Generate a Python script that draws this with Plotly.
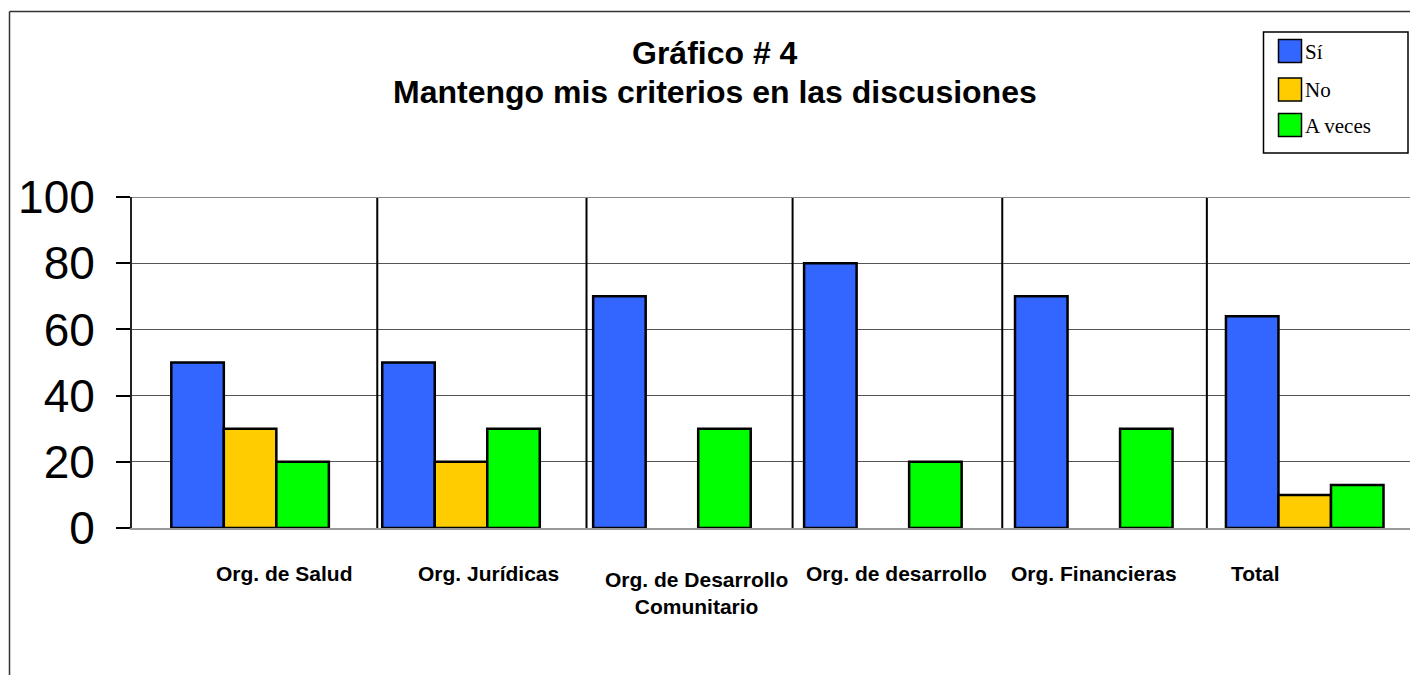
import plotly.graph_objects as go

# datos del gráfico
categorias = ["Org. de Salud", "Org. Jurídicas", "Org. de Desarrollo<br>Comunitario",
              "Org. de desarrollo", "Org. Financieras", "Total"]
series = ["Sí", "No", "A veces"]
si = [50, 50, 70, 80, 70, 64]
no = [30, 20, 0, 0, 0, 10]
a_veces = [20, 30, 30, 20, 30, 13]
y_ticks = [0, 20, 40, 60, 80, 100]

colores = ["#3366FF", "#FFCC00", "#00FF00"]

# la página html deja 8px de margen en el body
OFF = 8
W, H = 1418 - OFF, 675 - OFF
L, R, T, B = 132 - OFF, 0, 197 - OFF, 147
PW, PH = W - L - R, H - T - B


def px_x(x):
    # pixel de pantalla -> coordenada paper
    return (x - OFF - L) / PW


def px_y(y):
    return (H - B - (y - OFF)) / PH


x = list(range(len(categorias)))

fig = go.Figure()
for nombre, vals, col in zip(series, [si, no, a_veces], colores):
    fig.add_trace(go.Bar(
        x=x, y=vals, name=nombre,
        marker=dict(color=col, line=dict(color="black", width=[2.5 if v else 0 for v in vals])),
        showlegend=False,
    ))

# separadores verticales entre categorías
for xs in [0.603, 1.595, 2.572, 3.566, 4.536]:
    fig.add_shape(type="line", xref="x", yref="y", x0=xs, x1=xs, y0=-1.0, y1=100,
                  line=dict(color="black", width=2), layer="above")

# etiquetas de categoría
etq_x = [0.162, 1.129, 2.117, 3.065, 4.003, 4.767]
for cat, ex in zip(categorias, etq_x):
    yy = px_y(593) if "<br>" in cat else px_y(573)
    fig.add_annotation(x=ex, y=yy, xref="x", yref="paper", text=f"<b>{cat}</b>",
                       showarrow=False, xanchor="center", yanchor="middle",
                       font=dict(family="Liberation Sans, Arial", size=21, color="black"))

# título en dos líneas
for txt, ty in [("Gráfico # 4", 52.5), ("Mantengo mis criterios en las discusiones", 92.5)]:
    fig.add_annotation(x=px_x(715), y=px_y(ty), xref="paper", yref="paper", text=f"<b>{txt}</b>",
                       showarrow=False, xanchor="center", yanchor="middle",
                       font=dict(family="Liberation Sans, Arial", size=32, color="black"))

# borde exterior (solo lado izquierdo y superior visibles)
fig.add_shape(type="line", xref="paper", yref="paper", x0=px_x(9.5), x1=px_x(9.5),
              y0=px_y(11.5), y1=px_y(690), line=dict(color="#333", width=1.5))
fig.add_shape(type="line", xref="paper", yref="paper", x0=px_x(9.5), x1=px_x(1430),
              y0=px_y(11.5), y1=px_y(11.5), line=dict(color="#333", width=1.5))

# borde superior del área de trazado
fig.add_shape(type="line", xref="paper", yref="y", x0=0, x1=1, y0=100, y1=100,
              line=dict(color="#888", width=2))

# leyenda manual
fig.add_shape(type="rect", xref="paper", yref="paper", x0=px_x(1263.5), x1=px_x(1408),
              y0=px_y(32), y1=px_y(153), line=dict(color="black", width=1.5),
              fillcolor="white")
filas = [51, 89.5, 125]
for nombre, col, fy in zip(series, colores, filas):
    fig.add_shape(type="rect", xref="paper", yref="paper", x0=px_x(1278.5), x1=px_x(1301.5),
                  y0=px_y(fy - 11.5), y1=px_y(fy + 11.5),
                  line=dict(color="black", width=1.5), fillcolor=col)
    fig.add_annotation(x=px_x(1303), y=px_y(fy + 1), xref="paper", yref="paper", text=nombre,
                       showarrow=False, xanchor="left", yanchor="middle",
                       font=dict(family="Liberation Serif, Times New Roman", size=21, color="black"))

fig.update_layout(
    width=W, height=H,
    margin=dict(l=L, r=R, t=T, b=B, pad=0),
    paper_bgcolor="white", plot_bgcolor="white",
    barmode="group", bargap=0.253, bargroupgap=0,
    xaxis=dict(range=[-0.5598, 5.537], showticklabels=False, showgrid=False,
               zeroline=False, showline=True, linecolor="#999", linewidth=2, ticks=""),
    yaxis=dict(range=[0, 100], tickvals=y_ticks, showgrid=True, gridcolor="#555",
               gridwidth=1, zeroline=False, showline=True, linecolor="#222", linewidth=2,
               ticks="outside", ticklen=14, tickcolor="black", tickwidth=1.5,
               ticklabelstandoff=12,
               tickfont=dict(family="Liberation Sans, Arial", size=46, color="black")),
)

fig.write_html("out.html")
